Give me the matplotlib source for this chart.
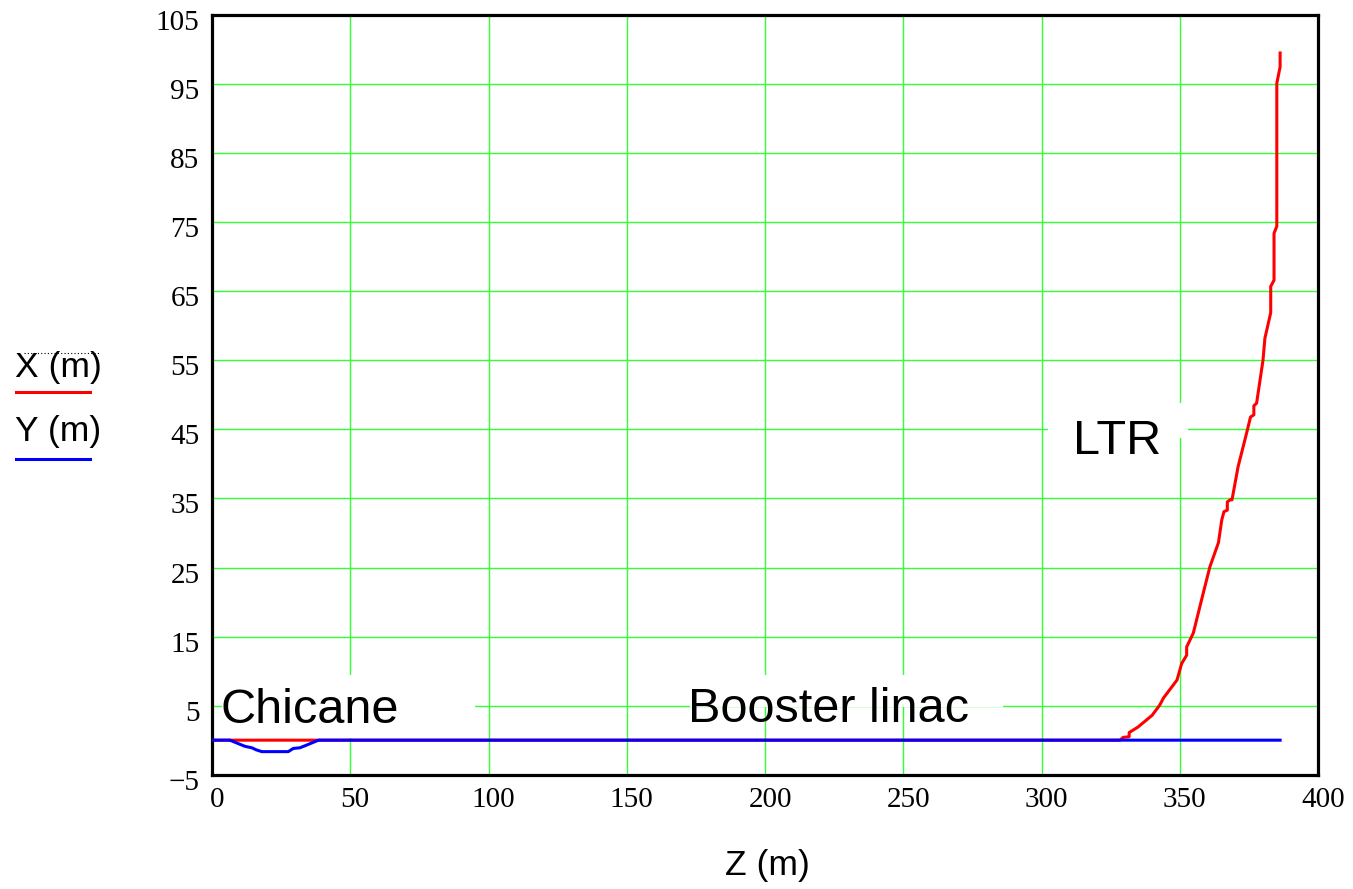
import matplotlib.pyplot as plt
from matplotlib.lines import Line2D
from matplotlib.patches import Rectangle
from matplotlib.transforms import ScaledTranslation

# beam line layout: horizontal offset X and vertical offset Y along Z
z_x = [0, 328.4, 329.5, 331.7, 331.7, 334.9, 340.0, 342.8, 344.1, 349.0, 350.7, 352.5,
       352.5, 354.9, 358.5, 360.9, 364.0, 365.2, 366.0, 367.2, 367.2, 368.2,
       368.9, 371.1, 374.2, 375.6, 376.8, 376.8, 377.8, 380.1, 380.8, 382.9,
       382.9, 384.1, 384.1, 385.1, 385.1, 386.3, 386.3]
x_m = [0, 0, 0.4, 0.5, 1.1, 1.9, 3.6, 5.1, 6.1, 8.7, 11.1, 12.3,
       13.5, 15.5, 21.3, 25.1, 28.6, 31.9, 33.1, 33.3, 34.5, 34.8,
       34.8, 39.6, 44.5, 46.8, 47.1, 48.4, 48.8, 55.0, 58.2, 61.9,
       65.7, 66.6, 73.4, 74.4, 95.1, 97.5, 99.5]

z_y = [0, 6.5, 10.1, 12.0, 14.4, 16.0, 18.0, 27.6, 28.6, 29.4, 31.8, 34.3,
       35.5, 38.5, 386.3]
y_m = [0, 0, -0.6, -0.9, -1.1, -1.4, -1.66, -1.66, -1.4, -1.2, -1.1, -0.7,
       -0.5, 0, 0]

xticks = [0, 50, 100, 150, 200, 250, 300, 350, 400]
yticks = [-5, 5, 15, 25, 35, 45, 55, 65, 75, 85, 95, 105]
ylabels = ['\u22125', '5', '15', '25', '35', '45', '55', '65', '75', '85', '95', '105']

serif = 'Liberation Serif'
sans = 'Liberation Sans'

fig = plt.figure(figsize=(13.53, 8.89), dpi=100)
ax = fig.add_axes([212/1353, 1-774.7/889, (1318-212)/1353, (774.7-15)/889])

ax.set_xlim(0, 400)
ax.set_ylim(-5, 105)
ax.set_xticks(xticks)
ax.set_yticks(yticks)
ax.set_xticklabels([str(t) for t in xticks], fontfamily=serif, fontsize=21)
ax.set_yticklabels(ylabels, fontfamily=serif, fontsize=21)
ax.tick_params(length=0, pad=9)
ax.grid(True, color='#33ff33', lw=1.0, zorder=0)
ax.set_axisbelow(True)
for s in ax.spines.values():
    s.set_linewidth(2.3)
    s.set_color('black')

# nudge tick labels like the original plot
for lab in ax.get_xticklabels():
    lab.set_transform(lab.get_transform() + ScaledTranslation(0.05, 0, fig.dpi_scale_trans))
for lab in ax.get_yticklabels():
    lab.set_transform(lab.get_transform() + ScaledTranslation(0, -0.05, fig.dpi_scale_trans))

# white patches behind the annotations
for (x0, y0, w, h) in [(3.5, 0.3, 91.5, 9.14), (172.9, 4.8, 113.2, 4.64), (302.4, 43.7, 50.6, 5.1)]:
    ax.add_patch(Rectangle((x0, y0), w, h, facecolor='white', edgecolor='none', zorder=1))

ax.plot(z_x, x_m, color='#ff0000', lw=2.2, zorder=2)
ax.plot(z_y, y_m, color='#0000ff', lw=2.2, zorder=3)

ax.text(35.4, 2.5, 'Chicane', fontfamily=sans, fontsize=35, ha='center', va='baseline', zorder=4)
ax.text(223.1, 2.67, 'Booster linac', fontfamily=sans, fontsize=35, ha='center', va='baseline', zorder=4)
ax.text(327.5, 41.5, 'LTR', fontfamily=sans, fontsize=35, ha='center', va='baseline', zorder=4)

fig.text(767/1353, 1-865/889, 'Z (m)', fontfamily=sans, fontsize=25.5, ha='center', va='center')

# legend at the left
fig.text(15/1353, 1-367/889, 'X (m)', fontfamily=sans, fontsize=25.5, ha='left', va='center')
fig.text(15/1353, 1-431/889, 'Y (m)', fontfamily=sans, fontsize=25.5, ha='left', va='center')
fig.add_artist(Line2D([24/1353, 100/1353], [1-353/889, 1-353/889], color='black', lw=0.8, ls=(0, (1, 2))))
fig.add_artist(Line2D([16/1353, 90/1353], [1-392/889, 1-392/889], color='#ff0000', lw=2.2))
fig.add_artist(Line2D([16/1353, 90/1353], [1-459/889, 1-459/889], color='#0000ff', lw=2.2))

fig.savefig('out.png', dpi=100)
